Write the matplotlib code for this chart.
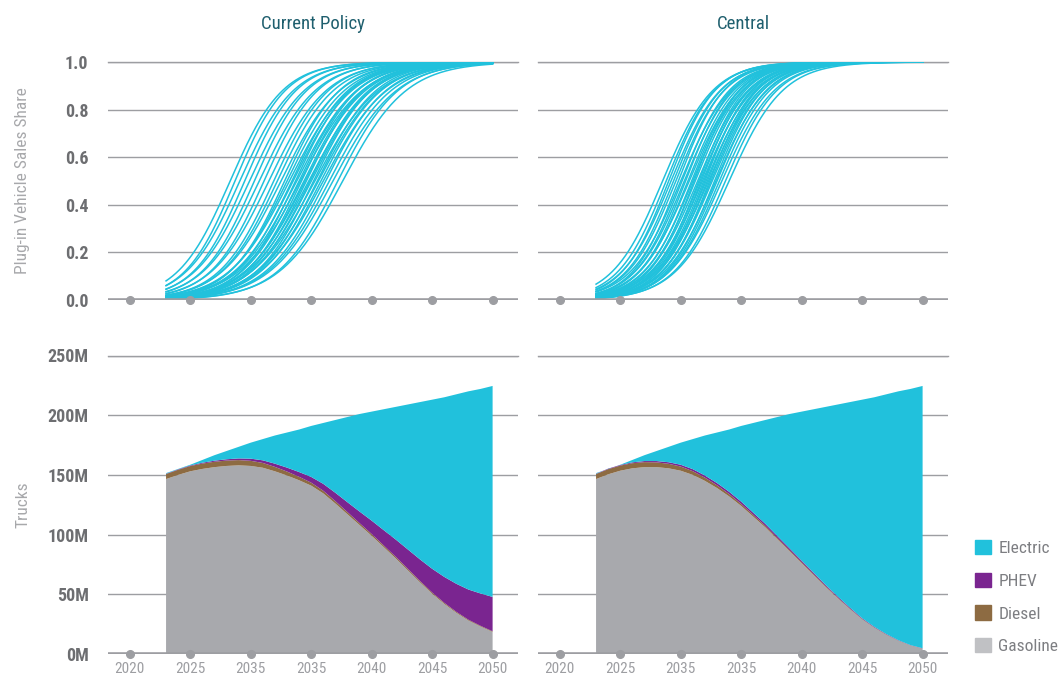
import numpy as np
import matplotlib
matplotlib.use('Agg')
import matplotlib.pyplot as plt
from matplotlib import font_manager
from matplotlib.patches import Patch

# pick a narrow face if there is one
names = {f.name for f in font_manager.fontManager.ttflist}
face = 'DejaVu Sans'
for cand in ['Roboto Condensed', 'Open Sans Condensed', 'Liberation Sans Narrow', 'Noto Sans Condensed']:
    if cand in names:
        face = cand
        break
plt.rcParams['font.family'] = [face, 'DejaVu Sans']
plt.rcParams['font.stretch'] = 'condensed'

# ---- data ----
panels = ['Current Policy', 'Central']
tick_years = [2020, 2025, 2030, 2035, 2040, 2045, 2050]
tick_labels = ['2020', '2025', '2035', '2035', '2040', '2045', '2050']
years = list(range(2023, 2051))

# sales share runs: S-curves given by the year they pass 50% and their steepness
cp_mid = [2028.3, 2028.7, 2029.1, 2029.5, 2029.9, 2030.3, 2030.7, 2031.1, 2031.5, 2031.9,
          2032.2, 2032.5, 2032.8, 2033.0, 2033.2, 2033.4, 2033.5, 2033.7, 2033.8, 2034.0,
          2034.1, 2034.2, 2034.4, 2034.5, 2034.6, 2034.8, 2034.9, 2035.0, 2035.2, 2035.3,
          2035.5, 2035.6, 2035.8, 2036.0, 2036.2, 2036.5, 2036.8, 2037.2, 2037.6]
cp_rate = [0.46, 0.48, 0.45, 0.47, 0.44, 0.46, 0.43, 0.45, 0.42, 0.44,
           0.43, 0.41, 0.44, 0.42, 0.40, 0.43, 0.41, 0.44, 0.40, 0.42,
           0.39, 0.43, 0.41, 0.40, 0.42, 0.39, 0.41, 0.40, 0.42, 0.38,
           0.41, 0.39, 0.40, 0.38, 0.40, 0.39, 0.38, 0.40, 0.38]
ce_mid = [2028.5, 2028.8, 2029.0, 2029.2, 2029.4, 2029.6, 2029.8, 2030.0, 2030.1, 2030.3,
          2030.4, 2030.6, 2030.7, 2030.9, 2031.0, 2031.1, 2031.2, 2031.4, 2031.5, 2031.6,
          2031.7, 2031.8, 2031.9, 2032.0, 2032.1, 2032.2, 2032.3, 2032.4, 2032.5, 2032.6,
          2032.8, 2032.9, 2033.0, 2033.2, 2033.4, 2033.7, 2034.0]
ce_rate = [0.48, 0.50, 0.52, 0.49, 0.51, 0.50, 0.53, 0.48, 0.51, 0.49,
           0.52, 0.50, 0.48, 0.51, 0.49, 0.53, 0.50, 0.48, 0.52, 0.49,
           0.51, 0.47, 0.50, 0.52, 0.48, 0.50, 0.47, 0.51, 0.49, 0.48,
           0.50, 0.47, 0.49, 0.48, 0.46, 0.47, 0.45]

# truck stock, millions
fleet_total = [151.5, 155.0, 158.5, 162.5, 166.5, 170.0, 173.5, 177.0, 180.0, 183.0,
               185.5, 188.0, 191.0, 193.5, 196.0, 198.5, 201.0, 203.0, 205.0, 207.0,
               209.0, 211.0, 213.0, 215.0, 217.5, 220.0, 222.0, 224.5]
cp_gasoline = [146.5, 150.0, 153.0, 155.0, 156.5, 157.5, 158.0, 157.5, 156.0, 153.0,
               149.5, 145.5, 141.0, 134.5, 126.0, 117.0, 108.0, 99.0, 89.5, 80.0,
               70.0, 60.0, 50.5, 42.0, 34.5, 28.0, 23.0, 18.5]
cp_diesel = [4.2, 4.3, 4.4, 4.5, 4.5, 4.5, 4.4, 4.3, 4.0, 3.7,
             3.3, 2.9, 2.5, 2.2, 2.0, 1.8, 1.6, 1.5, 1.4, 1.3,
             1.2, 1.1, 1.0, 0.9, 0.8, 0.7, 0.6, 0.5]
cp_phev = [0.3, 0.4, 0.5, 0.7, 0.9, 1.1, 1.4, 1.8, 2.2, 2.7,
           3.3, 4.0, 4.8, 5.8, 7.0, 8.3, 9.7, 11.2, 12.8, 14.5,
           16.3, 18.1, 19.9, 21.7, 23.5, 25.3, 27.1, 28.8]
ce_gasoline = [146.5, 150.5, 153.5, 155.5, 156.5, 156.5, 155.5, 153.5, 150.0, 145.0,
               139.0, 132.0, 124.0, 115.0, 106.0, 96.0, 86.0, 76.0, 66.0, 56.0,
               46.5, 37.5, 29.0, 22.0, 16.0, 11.0, 7.0, 4.5]
ce_diesel = [4.2, 4.3, 4.3, 4.3, 4.2, 4.0, 3.8, 3.5, 3.1, 2.7,
             2.3, 2.0, 1.7, 1.5, 1.3, 1.1, 1.0, 0.9, 0.8, 0.7,
             0.6, 0.5, 0.4, 0.3, 0.3, 0.2, 0.2, 0.1]
ce_phev = [0.3, 0.4, 0.5, 0.7, 0.9, 1.1, 1.3, 1.5, 1.7, 1.8,
           1.9, 1.9, 1.9, 1.8, 1.7, 1.6, 1.5, 1.3, 1.2, 1.0,
           0.9, 0.8, 0.6, 0.5, 0.4, 0.3, 0.2, 0.2]

colors = {'Electric': '#21c1dc', 'PHEV': '#7a2590', 'Diesel': '#8d6b42', 'Gasoline': '#a8a9ad'}
grid_c = '#9d9ea2'

fig = plt.figure(figsize=(10.58, 6.77), dpi=100)
lefts = [108 / 1058, 538 / 1058]
w = 410 / 1058
top_axes = [fig.add_axes([l, 1 - 300 / 677, w, 238 / 677]) for l in lefts]
bot_axes = [fig.add_axes([l, 1 - 654 / 677, w, 298.5 / 677]) for l in lefts]


def style(ax, yticks, show_ylabels, show_xlabels):
    for s in ax.spines.values():
        s.set_visible(False)
    ax.set_xlim(2018.2, 2052.1)
    ax.set_yticks(yticks)
    for y in yticks[1:]:
        ax.axhline(y, color=grid_c, lw=1, zorder=0)
    ax.axhline(0, color=grid_c, lw=2.6, zorder=6)
    ax.plot(tick_years, [0] * len(tick_years), 'o', color=grid_c, ms=5.5,
            zorder=7, clip_on=False)
    ax.tick_params(length=0)
    ax.set_xticks(tick_years)
    if show_xlabels:
        ax.set_xticklabels(tick_labels, color='#9d9ea2', fontsize=11)
        ax.tick_params(axis='x', pad=6)
    else:
        ax.set_xticklabels([])
    if not show_ylabels:
        ax.set_yticklabels([])


# top row: sales share runs
t = np.linspace(2023, 2050, 300)
for ax, mids, rates in zip(top_axes, [cp_mid, ce_mid], [cp_rate, ce_rate]):
    for m, k in zip(mids, rates):
        ax.plot(t, 1 / (1 + np.exp(-k * (t - m))), color=colors['Electric'], lw=1.1, zorder=3)
    ax.set_ylim(0, 1.0)
    style(ax, [0, 0.2, 0.4, 0.6, 0.8, 1.0], ax is top_axes[0], False)
    ax.axhline(1.0, color=grid_c, lw=1, zorder=0, clip_on=False)

top_axes[0].set_yticklabels(['0.0', '0.2', '0.4', '0.6', '0.8', '1.0'],
                            fontsize=13, fontweight='bold', color='#6d6e71')
top_axes[0].tick_params(axis='y', pad=14)

# bottom row: stacked stock by drivetrain
for ax, gas, dsl, phv in zip(bot_axes, [cp_gasoline, ce_gasoline], [cp_diesel, ce_diesel],
                             [cp_phev, ce_phev]):
    gas, dsl, phv = np.array(gas), np.array(dsl), np.array(phv)
    elec = np.array(fleet_total) - gas - dsl - phv
    ax.stackplot(years, gas, dsl, phv, elec,
                 colors=[colors['Gasoline'], colors['Diesel'], colors['PHEV'], colors['Electric']],
                 lw=0, zorder=2)
    ax.set_ylim(0, 250)
    style(ax, [0, 50, 100, 150, 200, 250], ax is bot_axes[0], True)
    ax.axhline(250, color=grid_c, lw=1, zorder=0, clip_on=False)

bot_axes[0].set_yticklabels(['0M', '50M', '100M', '150M', '200M', '250M'],
                            fontsize=13, fontweight='bold', color='#6d6e71')
bot_axes[0].tick_params(axis='y', pad=14)

top_axes[0].set_ylabel('Plug-in Vehicle Sales Share', fontsize=12.5, color='#a7a8ab')
bot_axes[0].set_ylabel('Trucks', fontsize=12.5, color='#a7a8ab')
top_axes[0].yaxis.set_label_coords(-0.19, 0.5)
bot_axes[0].yaxis.set_label_coords(-0.19, 0.5)

for ax, name in zip(top_axes, panels):
    ax.set_title(name, fontsize=13.5, color='#1f5f6e', pad=24)

handles = [Patch(color=colors[k] if k != 'Gasoline' else '#c0c1c4') for k in colors]
fig.legend(handles, list(colors), loc='upper left', bbox_to_anchor=(975 / 1058, 1 - 540 / 677),
           frameon=False, fontsize=12.5, labelcolor='#7d7e82', handlelength=0.9,
           handleheight=0.9, labelspacing=0.95, handletextpad=0.45, borderaxespad=0,
           borderpad=0)

fig.savefig('out.png', dpi=100)
